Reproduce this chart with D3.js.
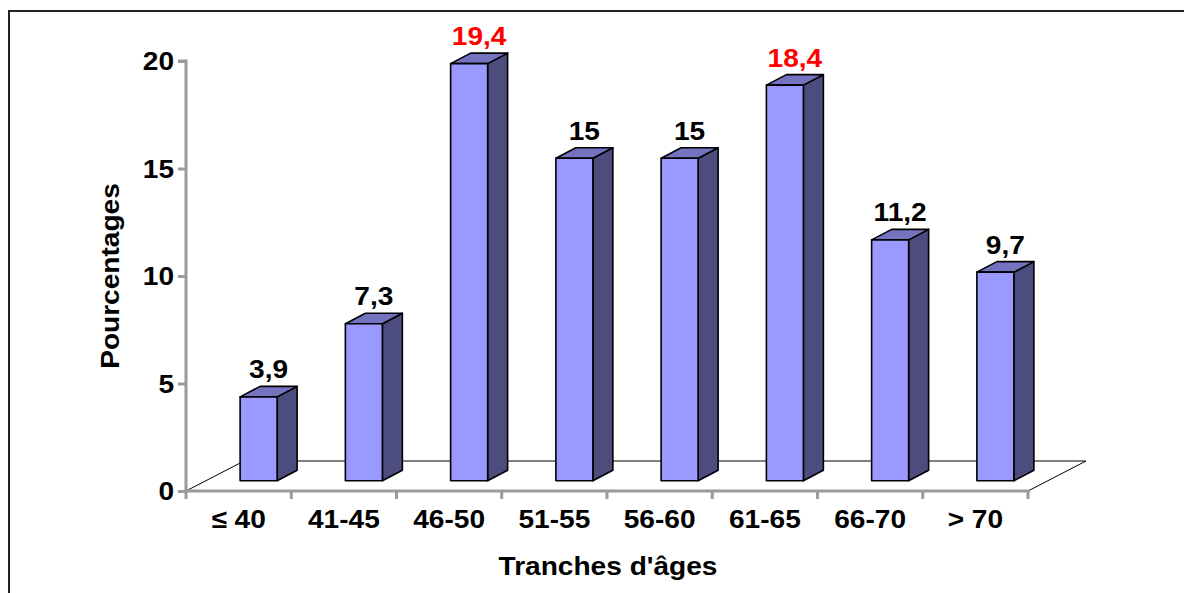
<!DOCTYPE html>
<html>
<head>
<meta charset="utf-8">
<script src="https://cdn.jsdelivr.net/npm/d3@7"></script>
<style>
  html, body { margin: 0; padding: 0; background: #fff; }
  svg { display: block; }
  text { font-family: "Liberation Sans", Arial, sans-serif; font-weight: bold; }
</style>
</head>
<body>
<script>
// Age groups and their share of the cohort (%)
const categories = ["\u2264 40", "41-45", "46-50", "51-55", "56-60", "61-65", "66-70", "> 70"];
const values = [3.9, 7.3, 19.4, 15, 15, 18.4, 11.2, 9.7];
const valueLabels = ["3,9", "7,3", "19,4", "15", "15", "18,4", "11,2", "9,7"];
const highlighted = [false, false, true, false, false, true, false, false];
const yTicks = [0, 5, 10, 15, 20];

const W = 1184, H = 593;
const FS = 26, STRETCH = 1.08;   // label font size and horizontal widening
const svg = d3.select("body").append("svg").attr("width", W).attr("height", H);

// places a slightly widened text at (px, py) with an optional rotation
function label(parent, px, py, str, opts = {}) {
  const rot = opts.rotate ? ` rotate(${opts.rotate})` : "";
  return parent.append("text")
    .attr("transform", `translate(${px},${py})${rot} scale(${STRETCH},1)`)
    .attr("text-anchor", opts.anchor || "middle")
    .attr("font-size", FS)
    .attr("fill", opts.fill || "#000")
    .text(str);
}

// outer frame
svg.append("rect")
  .attr("x", 9).attr("y", 11)
  .attr("width", W + 20).attr("height", H + 20)
  .attr("fill", "none").attr("stroke", "#222").attr("stroke-width", 2);

const x0 = 186, x1 = 1028, yBase = 491, yTop = 61;
const x = d3.scaleBand().domain(categories).range([x0, x1]).padding(0);
const y = d3.scaleLinear().domain([0, 20]).range([yBase, yTop]);

// 3D floor depth and bar placement inside it
const depthDX = 58, depthDY = -30;
const barDX = 20, barDY = -10.3;       // offset of bar front from floor front
const sideDX = 20, sideDY = -10.5;     // bar depth
const barW = 37;

// floor outline
const floor = svg.append("g").attr("fill", "none").attr("stroke", "#000").attr("stroke-width", 1);
floor.append("line").attr("x1", x0).attr("y1", yBase).attr("x2", x0 + depthDX).attr("y2", yBase + depthDY);
floor.append("line").attr("x1", x0 + depthDX).attr("y1", yBase + depthDY).attr("x2", x1 + depthDX).attr("y2", yBase + depthDY);
floor.append("line").attr("x1", x1).attr("y1", yBase).attr("x2", x1 + depthDX).attr("y2", yBase + depthDY);

// bars
const bars = svg.append("g");
categories.forEach((c, i) => {
  const v = values[i];
  const cx = x(c) + x.bandwidth() / 2 + barDX;
  const left = cx - barW / 2, right = cx + barW / 2;
  const bottom = yBase + barDY;
  const top = y(v) + barDY;
  const g = bars.append("g").attr("stroke", "#000").attr("stroke-width", 1.6).attr("stroke-linejoin", "round");
  // side face
  g.append("path")
    .attr("d", `M${right},${bottom} L${right + sideDX},${bottom + sideDY} L${right + sideDX},${top + sideDY} L${right},${top} Z`)
    .attr("fill", "#4C4C7F");
  // top face
  g.append("path")
    .attr("d", `M${left},${top} L${left + sideDX},${top + sideDY} L${right + sideDX},${top + sideDY} L${right},${top} Z`)
    .attr("fill", "#7373C0");
  // front face
  g.append("rect")
    .attr("x", left).attr("y", top).attr("width", barW).attr("height", bottom - top)
    .attr("fill", "#9999FF");
  // value label
  label(svg, cx + sideDX / 2, top + sideDY - 8, valueLabels[i], { fill: highlighted[i] ? "#FF0000" : "#000" });
});

// y axis
const yAxis = svg.append("g").attr("transform", `translate(${x0},0)`)
  .call(d3.axisLeft(y).tickValues(yTicks).tickSize(8).tickFormat(""));
yAxis.select(".domain").attr("stroke", "#9A9A9A").attr("stroke-width", 3).attr("d", `M-8,${yTop}H0V${yBase}`);
yAxis.selectAll(".tick line").attr("stroke", "#9A9A9A").attr("stroke-width", 3);
yTicks.forEach(t => label(svg, x0 - 12, y(t) + 9, String(t), { anchor: "end" }));

// x axis with ticks at category boundaries
const xAxis = svg.append("g").attr("transform", `translate(0,${yBase})`);
xAxis.append("line").attr("x1", x0 - 1.5).attr("x2", x1 + 1.5).attr("y1", 0).attr("y2", 0)
  .attr("stroke", "#9A9A9A").attr("stroke-width", 3);
const bounds = categories.map(c => x(c)).concat([x1]);
xAxis.selectAll("line.tk").data(bounds).enter().append("line").attr("class", "tk")
  .attr("x1", d => d).attr("x2", d => d).attr("y1", 0).attr("y2", 8)
  .attr("stroke", "#9A9A9A").attr("stroke-width", 3);
categories.forEach(c => label(svg, x(c) + x.bandwidth() / 2, yBase + 37, c));

// axis titles
label(svg, 119, 276, "Pourcentages", { rotate: -90 });
label(svg, 608, 575, "Tranches d'\u00e2ges");
</script>
</body>
</html>
